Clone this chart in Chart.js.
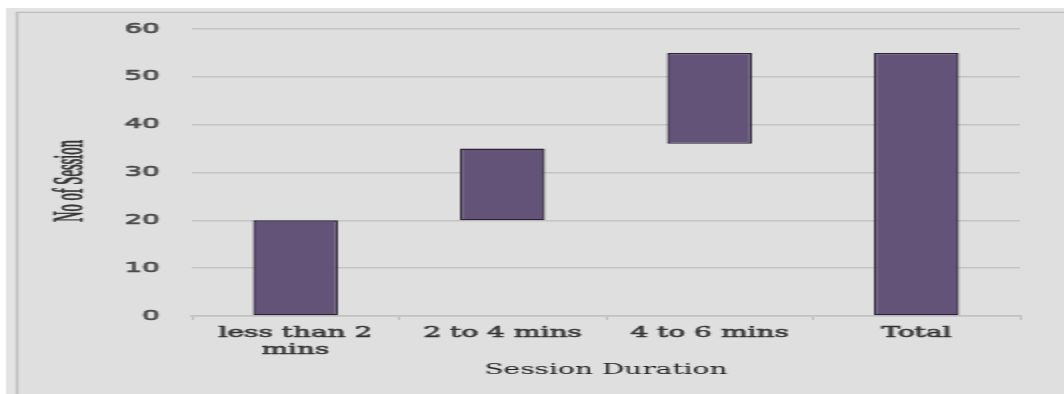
<!DOCTYPE html>
<html>
<head>
<meta charset="utf-8">
<script src="https://cdn.jsdelivr.net/npm/chart.js@4.4.1/dist/chart.umd.min.js"></script>
<style>
  html, body { margin: 0; padding: 0; background: #ffffff; overflow: hidden; }
  #chart { display: block; }
</style>
</head>
<body>
<!-- the chart is drawn at half width and shown stretched across the page -->
<canvas id="chart" width="532" height="394" style="width:1064px;height:394px;"></canvas>
<script>
// Session-duration waterfall: each bar floats from its start value to its end value
const categories = [['less than 2', 'mins'], '2 to 4 mins', '4 to 6 mins', 'Total'];
const barStart = [0, 20, 36, 0];
const barEnd = [20, 35, 55, 55];
const yTicks = [0, 10, 20, 30, 40, 50, 60];
const xTitle = 'Session Duration';
const yTitle = 'No of Session';

const floatingBars = barStart.map((s, i) => [s, barEnd[i]]);

// panel background with its left and top frame lines
const panelBackground = {
  id: 'panelBackground',
  beforeDraw(chart) {
    const ctx = chart.ctx;
    const w = chart.width, h = chart.height;
    ctx.save();
    ctx.fillStyle = '#ffffff';
    ctx.fillRect(0, 0, w, h);
    ctx.fillStyle = '#e3e3e3';
    ctx.fillRect(3, 8, w - 3, h - 8);
    ctx.fillStyle = '#dfdfdf';
    ctx.fillRect(9, 13, w - 9, h - 13);
    ctx.strokeStyle = '#bdbdbd';
    ctx.lineWidth = 1.3;
    ctx.beginPath();
    ctx.moveTo(8.5, h);
    ctx.lineTo(8.5, 12.4);
    ctx.lineTo(w, 12.4);
    ctx.stroke();
    ctx.restore();
  }
};

// narrow, rotated title for the value axis
const valueAxisTitle = {
  id: 'valueAxisTitle',
  afterDraw(chart) {
    const ctx = chart.ctx;
    ctx.save();
    ctx.translate(36, 181);
    ctx.rotate(-Math.PI / 2);
    ctx.scale(0.73, 1);
    ctx.font = '20px "Liberation Serif"';
    ctx.fillStyle = '#333333';
    ctx.strokeStyle = '#333333';
    ctx.lineWidth = 0.6;
    ctx.textAlign = 'center';
    ctx.textBaseline = 'middle';
    ctx.strokeText(yTitle, 0, 0);
    ctx.fillText(yTitle, 0, 0);
    ctx.restore();
  }
};

new Chart(document.getElementById('chart'), {
  type: 'bar',
  data: {
    labels: categories,
    datasets: [{
      data: floatingBars,
      backgroundColor: '#635379',
      borderColor: '#2b2236',
      borderWidth: 1.3,
      borderSkipped: false,
      barPercentage: 0.41,
      categoryPercentage: 1
    }]
  },
  options: {
    responsive: false,
    animation: false,
    devicePixelRatio: 1,
    layout: { padding: { left: 10, right: 22, top: 29, bottom: 0 } },
    plugins: {
      legend: { display: false },
      tooltip: { enabled: false },
      title: { display: false }
    },
    scales: {
      x: {
        offset: true,
        grid: {
          display: true,
          drawOnChartArea: false,
          drawTicks: true,
          tickLength: 4,
          color: '#bdbdbd',
          lineWidth: 1
        },
        border: { display: true, color: '#c2c2c2', width: 1.5 },
        ticks: {
          padding: 5,
          maxRotation: 0,
          autoSkip: false,
          color: '#333333',
          textStrokeColor: '#333333',
          textStrokeWidth: 0.5,
          font: { family: '"DejaVu Serif"', size: 14 }
        },
        title: {
          display: true,
          text: xTitle,
          color: '#222222',
          font: { family: '"DejaVu Serif"', size: 14 },
          padding: { top: 0, bottom: 15.6 }
        },
        afterFit(scale) { scale.height = 78; }
      },
      y: {
        min: 0,
        max: 60,
        afterBuildTicks(scale) { scale.ticks = yTicks.map(v => ({ value: v })); },
        grid: {
          drawTicks: false,
          color: '#c4c4c4',
          lineWidth: 1.5
        },
        border: { display: false },
        ticks: {
          padding: 16,
          color: '#4a4a4a',
          textStrokeColor: '#4a4a4a',
          textStrokeWidth: 0.6,
          font: { family: '"DejaVu Sans"', size: 14 }
        },
        afterFit(scale) { scale.width = 86; }
      }
    }
  },
  plugins: [panelBackground, valueAxisTitle]
});
</script>
</body>
</html>
